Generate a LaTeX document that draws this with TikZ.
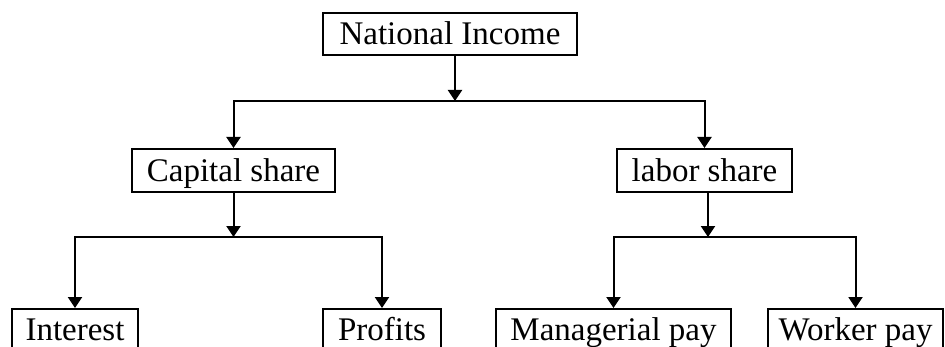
\documentclass[tikz,border=0pt]{standalone}
\usepackage{fontspec}
\setmainfont{Liberation Serif}
\usetikzlibrary{arrows.meta}
\begin{document}
\begin{tikzpicture}[x=0.5pt,y=-0.5pt,
  box/.style={draw,line width=1pt,inner sep=0pt,text height=13pt,text depth=2pt,font=\fontsize{16.5}{18}\selectfont,anchor=center},
  lowbox/.style={box,minimum height=21pt,text height=12.5pt,text depth=2.5pt},
  arr/.style={line width=1pt,-{Triangle[length=5.5pt,width=7pt]}}]
\clip (0,0) rectangle (945,347);
\useasboundingbox (0,0) rectangle (945,347);
\node[box,minimum width=127pt,minimum height=21pt] (ni) at (450,34) {National Income};
\node[box,minimum width=101.5pt,minimum height=21.5pt] (cs) at (233.5,170.5) {Capital share};
\node[box,minimum width=87.5pt,minimum height=21.5pt] (ls) at (704.5,170.5) {labor share};
\node[lowbox,minimum width=63pt] (in) at (75,330) {Interest};
\node[lowbox,minimum width=59pt] (pr) at (382,330) {Profits};
\node[lowbox,minimum width=117.5pt] (mp) at (613.5,330) {Managerial pay};
\node[lowbox,minimum width=87.5pt] (wp) at (855.5,330) {Worker pay};
\coordinate (j1) at (455,101);
\coordinate (j2) at (233.5,237);
\coordinate (j3) at (708,237);
\draw[arr] (j1 |- ni.south) -- (j1);
\draw[arr] (j1) -| (cs.north);
\draw[arr] (j1) -| (ls.north);
\draw[arr] (cs.south) -- (j2);
\draw[arr] (j2) -| (in.north);
\draw[arr] (j2) -| (pr.north);
\draw[arr] (j3 |- ls.south) -- (j3);
\draw[arr] (j3) -| (mp.north);
\draw[arr] (j3) -| (wp.north);
\end{tikzpicture}
\end{document}
